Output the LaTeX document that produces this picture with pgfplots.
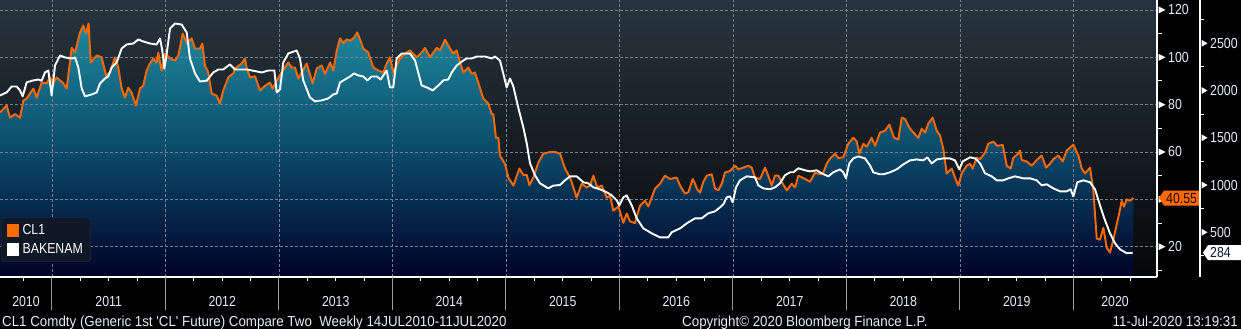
\documentclass[border=0pt]{standalone}
\usepackage{fontspec}
\setmainfont{Liberation Sans}[FakeStretch=0.85]
\newfontfamily\footfont{Liberation Sans}[FakeStretch=0.92]
\usepackage{pgfplots}
\usepackage{pgfplotstable}
\pgfplotsset{compat=1.18}
\definecolor{cloil}{HTML}{FF6A00}
\definecolor{bgtop}{HTML}{27343F}
\definecolor{bgbot}{HTML}{060708}
\definecolor{filltop}{HTML}{1D899D}
\definecolor{fillmid}{HTML}{0B4A6B}
\definecolor{fillbot}{HTML}{000228}
\definecolor{gridc}{HTML}{74818D}
\definecolor{tickgray}{HTML}{9A9A9A}
\definecolor{legbg}{HTML}{0F1826}
\definecolor{legborder}{HTML}{2B3542}
\definecolor{labc}{HTML}{E4EEF8}
\definecolor{tagtxt}{HTML}{1E0800}
\definecolor{tagtxtb}{HTML}{0A143C}
\newcommand\bbfont{\fontsize{14.5bp}{17bp}\selectfont}

\pgfplotstableread{
x y
2010.542 76.7
2010.601 79.6
2010.630 74.5
2010.674 76.0
2010.718 74.5
2010.748 81.7
2010.777 82.6
2010.836 86.8
2010.865 83.0
2010.909 89.3
2010.953 89.0
2010.983 91.5
2011.012 89.0
2011.041 91.5
2011.100 89.0
2011.129 86.8
2011.174 104.0
2011.203 102.0
2011.247 110.5
2011.276 113.4
2011.300 110.0
2011.323 114.3
2011.341 97.8
2011.394 100.8
2011.438 100.0
2011.476 92.3
2011.511 93.6
2011.555 100.0
2011.584 95.7
2011.614 86.8
2011.643 83.0
2011.672 87.2
2011.702 85.0
2011.740 79.6
2011.775 86.8
2011.804 88.0
2011.834 94.4
2011.863 97.4
2011.893 99.5
2011.922 97.8
2011.937 102.0
2011.966 94.4
2011.996 101.6
2012.040 99.5
2012.084 98.6
2012.113 100.8
2012.152 110.0
2012.187 106.0
2012.231 108.0
2012.260 103.7
2012.304 103.7
2012.325 105.8
2012.348 96.5
2012.377 93.6
2012.407 84.7
2012.451 83.8
2012.480 80.5
2012.509 86.0
2012.553 91.5
2012.598 93.2
2012.613 95.3
2012.672 97.4
2012.701 99.5
2012.716 95.3
2012.745 91.5
2012.789 92.0
2012.833 86.0
2012.877 88.0
2012.921 89.3
2012.944 86.8
2012.980 90.2
2013.024 93.6
2013.082 97.8
2013.112 95.7
2013.141 95.7
2013.170 91.0
2013.200 93.6
2013.244 97.4
2013.297 89.0
2013.332 95.3
2013.376 96.5
2013.406 93.0
2013.450 97.8
2013.479 94.4
2013.509 102.9
2013.538 108.0
2013.567 106.0
2013.597 107.6
2013.626 107.0
2013.655 108.0
2013.690 110.5
2013.714 107.6
2013.743 103.7
2013.787 102.0
2013.831 95.7
2013.875 94.4
2013.919 93.6
2013.949 97.4
2013.978 100.0
2014.007 93.6
2014.066 99.5
2014.110 101.6
2014.154 102.9
2014.214 100.0
2014.257 102.0
2014.287 104.0
2014.331 100.0
2014.390 104.0
2014.419 102.9
2014.463 107.5
2014.507 103.7
2014.536 101.6
2014.566 102.9
2014.595 97.8
2014.624 93.6
2014.668 95.7
2014.698 93.0
2014.727 93.6
2014.756 89.3
2014.800 82.6
2014.844 80.5
2014.874 76.0
2014.888 76.0
2014.912 66.0
2014.933 66.0
2014.947 58.5
2014.991 55.0
2015.021 49.2
2015.065 45.8
2015.118 53.0
2015.153 50.3
2015.183 50.3
2015.206 46.0
2015.241 49.2
2015.285 55.5
2015.329 59.3
2015.388 60.0
2015.432 60.0
2015.476 59.3
2015.520 53.0
2015.564 49.2
2015.594 45.0
2015.623 40.7
2015.667 46.6
2015.711 45.0
2015.740 45.8
2015.770 50.0
2015.805 45.0
2015.844 45.8
2015.888 40.7
2015.917 41.5
2015.946 35.2
2015.990 37.0
2016.034 30.1
2016.064 34.0
2016.093 30.7
2016.137 30.0
2016.181 37.3
2016.225 39.4
2016.254 37.0
2016.313 44.5
2016.357 46.6
2016.401 50.0
2016.445 48.6
2016.504 49.2
2016.534 45.8
2016.577 42.4
2016.607 43.0
2016.645 48.6
2016.666 46.6
2016.681 44.5
2016.710 42.8
2016.739 47.4
2016.769 50.0
2016.813 50.6
2016.842 44.5
2016.871 43.8
2016.901 46.6
2016.930 51.3
2016.974 52.0
2017.018 54.2
2017.047 52.7
2017.091 53.4
2017.135 54.2
2017.165 53.4
2017.194 49.2
2017.238 48.6
2017.282 53.4
2017.311 50.0
2017.341 45.8
2017.370 50.0
2017.400 50.0
2017.429 47.4
2017.473 43.8
2017.518 46.6
2017.547 45.0
2017.576 50.0
2017.635 48.6
2017.679 47.4
2017.723 51.3
2017.767 50.6
2017.796 51.3
2017.826 55.0
2017.855 57.2
2017.899 59.3
2017.928 57.4
2017.972 57.8
2018.016 63.5
2018.060 66.0
2018.090 64.5
2018.113 59.3
2018.149 63.5
2018.178 62.2
2018.222 66.0
2018.252 62.6
2018.296 68.2
2018.340 69.0
2018.378 71.6
2018.419 66.0
2018.457 65.3
2018.487 74.5
2018.516 73.9
2018.554 70.3
2018.589 68.2
2018.633 66.0
2018.663 69.9
2018.692 68.2
2018.721 72.0
2018.760 74.5
2018.795 69.0
2018.824 67.0
2018.853 61.4
2018.883 50.9
2018.927 53.0
2018.956 49.2
2018.985 45.8
2019.015 50.9
2019.059 54.2
2019.089 55.0
2019.112 53.0
2019.147 57.6
2019.177 57.0
2019.221 59.7
2019.250 63.5
2019.294 64.4
2019.329 62.6
2019.377 63.0
2019.412 54.2
2019.447 53.0
2019.470 57.6
2019.514 59.3
2019.529 60.6
2019.544 56.6
2019.588 56.0
2019.632 54.2
2019.676 56.6
2019.720 58.5
2019.759 53.4
2019.793 55.0
2019.823 57.0
2019.867 58.5
2019.905 56.0
2019.940 60.6
2019.999 63.1
2020.043 58.5
2020.073 53.0
2020.102 50.9
2020.146 53.4
2020.175 43.7
2020.205 23.4
2020.234 23.0
2020.263 28.0
2020.293 19.6
2020.322 17.5
2020.351 23.0
2020.395 32.3
2020.425 39.4
2020.445 36.9
2020.469 40.0
2020.498 39.4
2020.528 40.55
}\cldata

\pgfplotstableread{
x y
2010.542 1948
2010.601 1980
2010.645 2043
2010.689 2043
2010.718 2001
2010.742 1938
2010.777 2086
2010.821 2103
2010.880 2117
2010.909 2103
2010.938 2191
2010.968 2212
2010.997 1948
2011.027 2265
2011.071 2371
2011.115 2350
2011.174 2339
2011.203 2350
2011.232 2244
2011.262 2022
2011.291 1938
2011.350 1959
2011.394 1980
2011.423 2075
2011.467 2128
2011.496 2150
2011.526 2244
2011.570 2297
2011.614 2445
2011.658 2487
2011.716 2498
2011.761 2540
2011.804 2519
2011.863 2498
2011.922 2487
2011.952 2551
2011.972 2424
2011.990 2233
2012.011 2392
2012.040 2656
2012.084 2709
2012.143 2698
2012.187 2614
2012.216 2339
2012.260 2181
2012.304 2096
2012.363 2103
2012.421 2191
2012.466 2223
2012.509 2223
2012.568 2276
2012.613 2223
2012.716 2223
2012.804 2202
2012.848 2191
2012.906 2212
2012.959 2212
2012.980 1980
2013.009 2012
2013.038 2297
2013.082 2392
2013.156 2424
2013.185 2339
2013.214 2107
2013.273 1927
2013.317 1885
2013.376 1896
2013.435 1917
2013.479 1959
2013.509 1970
2013.538 2086
2013.582 2117
2013.626 2149
2013.661 2181
2013.699 2160
2013.743 2149
2013.778 2107
2013.817 2149
2013.861 2149
2013.896 2117
2013.949 2212
2013.978 2033
2014.007 2033
2014.037 2339
2014.081 2392
2014.154 2392
2014.199 2318
2014.257 2054
2014.302 2033
2014.355 2001
2014.404 2054
2014.448 2107
2014.492 2117
2014.522 2191
2014.566 2265
2014.624 2318
2014.654 2339
2014.698 2339
2014.742 2360
2014.815 2360
2014.874 2339
2014.903 2360
2014.947 2318
2014.976 2181
2015.006 2033
2015.035 2128
2015.065 2043
2015.108 1821
2015.153 1610
2015.183 1441
2015.212 1229
2015.256 1103
2015.300 1018
2015.373 965
2015.417 994
2015.476 1000
2015.520 1050
2015.564 1092
2015.623 1092
2015.682 1029
2015.726 1018
2015.770 976
2015.829 955
2015.888 923
2015.932 891
2015.976 838
2015.999 785
2016.034 870
2016.064 891
2016.108 785
2016.152 648
2016.210 542
2016.284 489
2016.357 447
2016.431 447
2016.460 500
2016.534 542
2016.593 595
2016.666 648
2016.724 648
2016.783 701
2016.842 722
2016.886 764
2016.915 796
2016.945 870
2016.974 880
2016.998 817
2017.027 976
2017.062 1050
2017.121 1092
2017.194 1082
2017.223 997
2017.267 965
2017.326 955
2017.370 976
2017.414 1018
2017.458 1103
2017.503 1135
2017.532 1135
2017.576 1177
2017.635 1156
2017.679 1145
2017.738 1156
2017.782 1124
2017.840 1092
2017.884 1135
2017.943 1166
2017.972 1135
2017.996 1071
2018.025 1229
2018.060 1282
2018.104 1303
2018.163 1282
2018.207 1208
2018.237 1134
2018.296 1114
2018.325 1114
2018.384 1135
2018.443 1166
2018.501 1219
2018.560 1261
2018.619 1271
2018.677 1261
2018.713 1292
2018.751 1229
2018.795 1271
2018.853 1282
2018.912 1282
2018.956 1261
2018.994 1166
2019.024 1250
2019.089 1293
2019.133 1282
2019.177 1229
2019.221 1124
2019.280 1092
2019.324 1050
2019.382 1050
2019.426 1071
2019.485 1092
2019.558 1071
2019.617 1071
2019.676 1050
2019.720 997
2019.764 1008
2019.823 965
2019.882 933
2019.940 933
2019.975 955
2019.999 880
2020.034 1029
2020.087 1050
2020.146 1029
2020.190 955
2020.234 785
2020.278 627
2020.322 489
2020.366 384
2020.410 320
2020.469 278
2020.522 284
}\rigdata

\begin{document}
\begin{tikzpicture}[font=\bbfont]
\path[use as bounding box, fill=black] (0bp,-52bp) rectangle (1241bp,277bp);

% Axis A: background, area, grid, CL1 axis, year labels
\begin{axis}[
  at={(0bp,0bp)}, anchor=south west, scale only axis,
  width=1157bp, height=277bp,
  xmin=2010.542, xmax=2020.736, ymin=7.2, ymax=124.2,
  axis background/.style={top color=bgtop, bottom color=bgbot},
  axis on top,
  axis x line*=bottom, axis y line*=right,
  axis line style={white, line width=1.3bp, -},
  tick style={draw=none},
  xtick={2011,...,2020}, xticklabels={},
  extra x ticks={2010.771,2011.5,2012.5,2013.5,2014.5,2015.5,2016.5,2017.5,2018.5,2019.5,2020.366},
  extra x tick labels={2010,2011,2012,2013,2014,2015,2016,2017,2018,2019,2020},
  extra x tick style={grid=none},
  xticklabel style={anchor=base, yshift=-29bp, text=labc, font=\bbfont, inner sep=0pt},
  ytick={20,40,...,120}, yticklabels={20,{},60,80,100,120},
  yticklabel style={anchor=west, xshift=11bp, text=labc, font=\bbfont, inner sep=0pt},
  xmajorgrids, ymajorgrids,
  major grid style={draw=gridc, dash pattern=on 2.5bp off 2.5bp, line width=0.7bp},
]
\addplot[draw=none, top color=filltop, bottom color=fillbot, middle color=fillmid] table[x=x, y=y] {\cldata} \closedcycle;
\end{axis}

% Axis B: CL1 line, axis decorations, last value tag
\begin{axis}[
  at={(0bp,0bp)}, anchor=south west, scale only axis,
  width=1157bp, height=277bp,
  xmin=2010.542, xmax=2020.736, ymin=7.2, ymax=124.2,
  hide axis, clip=false,
]
\addplot[cloil, line width=1.9bp, line join=round] table[x=x, y=y] {\cldata};
\pgfplotsinvokeforeach{2011,...,2020}{
  \draw[tickgray, line width=1bp] (axis cs:#1,7.2) -- ++(0bp,-33bp);
}
\pgfplotsinvokeforeach{2010.75,2011.25,2011.5,2011.75,2012.25,2012.5,2012.75,2013.25,2013.5,2013.75,2014.25,2014.5,2014.75,2015.25,2015.5,2015.75,2016.25,2016.5,2016.75,2017.25,2017.5,2017.75,2018.25,2018.5,2018.75,2019.25,2019.5,2019.75,2020.25,2020.5}{
  \draw[white, line width=1bp] (axis cs:#1,7.2) -- ++(0bp,-4bp);
}
\pgfplotsinvokeforeach{20,40,...,120}{
  \fill[white] (axis cs:2020.736,#1) ++(1.5bp,-3.5bp) -- ++(0bp,7bp) -- ++(7bp,-3.5bp) -- cycle;
}
\pgfplotsinvokeforeach{10,30,...,110}{
  \draw[white, line width=1bp] (axis cs:2020.736,#1) -- ++(5bp,0bp);
}
\fill[cloil] (axis cs:2020.736,40.55) ++(2bp,0bp) -- ++(5bp,7.5bp) -- ++(36bp,0bp) -- ++(0bp,-15bp) -- ++(-36bp,0bp) -- cycle;
\node[anchor=west, inner sep=0pt, text=tagtxt, font=\bbfont, xshift=9bp] at (axis cs:2020.736,40.55) {40.55};
\end{axis}

% Axis C: BAKENAM line, right axis, legend
\begin{axis}[
  at={(0bp,0bp)}, anchor=south west, scale only axis,
  width=1200bp, height=277bp,
  xmin=2010.542, xmax=2021.115, ymin=27, ymax=2958,
  axis x line=none, axis y line*=right,
  axis line style={white, line width=1.3bp, -},
  tick style={draw=none},
  ytick={500,1000,...,2500}, yticklabels={500,1000,1500,2000,2500},
  yticklabel style={anchor=west, xshift=10bp, text=labc, font=\bbfont, inner sep=0pt},
  clip=false,
  legend cell align=left,
  legend style={at={(0,0)}, anchor=south west, xshift=1bp, yshift=15bp,
    fill=legbg, draw=legborder, rounded corners=4bp, font=\bbfont,
    text=white, inner xsep=6bp, inner ysep=5bp, row sep=3bp, column sep=2bp,
    nodes={text=white, inner sep=2bp}},
]
\addlegendimage{legend image code/.code={\fill[cloil, sharp corners] (0bp,-6bp) rectangle (11bp,6bp);}}
\addlegendentry{CL1}
\addlegendimage{legend image code/.code={\fill[white, sharp corners] (0bp,-6bp) rectangle (11bp,6bp);}}
\addlegendentry{BAKENAM}
\addplot[white, line width=1.9bp, line join=round, forget plot] table[x=x, y=y] {\rigdata};
\pgfplotsinvokeforeach{500,1000,...,2500}{
  \fill[white] (axis cs:2021.115,#1) ++(1.5bp,-3.5bp) -- ++(0bp,7bp) -- ++(6bp,-3.5bp) -- cycle;
}
\pgfplotsinvokeforeach{250,750,...,2750}{
  \draw[white, line width=1bp] (axis cs:2021.115,#1) -- ++(4bp,0bp);
}
\fill[white] (axis cs:2021.115,284) ++(3bp,0bp) -- ++(5bp,7.5bp) -- ++(40bp,0bp) -- ++(0bp,-15bp) -- ++(-40bp,0bp) -- cycle;
\node[anchor=west, inner sep=0pt, text=tagtxtb, font=\bbfont, xshift=10bp] at (axis cs:2021.115,284) {284};
\end{axis}

\node[anchor=base west, inner sep=0pt, text=labc, font=\footfont\bbfont] at (2bp,-49bp) {CL1 Comdty (Generic 1st {\char"27}CL{\char"27} Future) Compare Two\ \ Weekly 14JUL2010-11JUL2020};
\node[anchor=base west, inner sep=0pt, text=labc, font=\footfont\bbfont] at (682bp,-49bp) {Copyright© 2020 Bloomberg Finance L.P.};
\node[anchor=base east, inner sep=0pt, text=labc, font=\footfont\bbfont] at (1238bp,-49bp) {11-Jul-2020 13:19:31};
\end{tikzpicture}
\end{document}
